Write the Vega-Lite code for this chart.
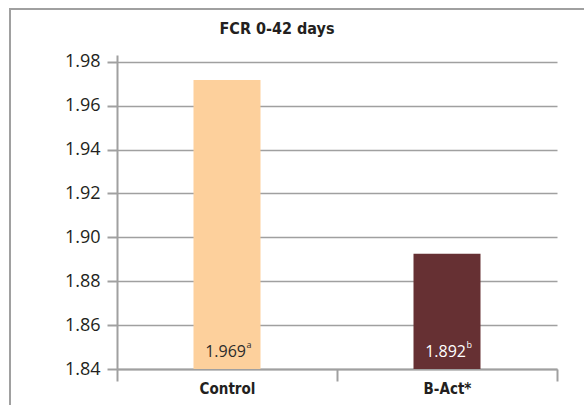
{
  "$schema": "https://vega.github.io/schema/vega-lite/v6.json",
  "width": 584,
  "height": 400,
  "autosize": {"type": "none"},
  "padding": {"left": 10, "top": 9, "right": 0, "bottom": 0},
  "background": "white",
  "title": {
    "text": "FCR 0-42 days",
    "font": "'DejaVu Sans Condensed', Roboto, sans-serif",
    "fontWeight": "bold",
    "fontSize": 16,
    "color": "#231f20",
    "anchor": "middle",
    "frame": "group",
    "dx": -25,
    "offset": -23,
    "dy": 18,
    "baseline": "alphabetic"
  },
  "config": {
    "view": {"stroke": "#a0a0a0", "strokeWidth": 2}
  },
  "data": {
    "values": [
      {"group": "Control", "value": 1.9717, "label": "1.969", "sup": "a"},
      {"group": "B-Act*", "value": 1.8925, "label": "1.892", "sup": "b"}
    ]
  },
  "encoding": {
    "x": {
      "field": "group",
      "type": "nominal",
      "sort": null,
      "scale": {"domain": ["Control", "B-Act*"], "range": [107, 547], "paddingInner": 0, "paddingOuter": 0},
      "axis": {
        "title": null,
        "orient": "bottom",
        "offset": -40,
        "tickBand": "extent",
        "tickSize": 12,
        "tickColor": "#a0a0a0",
        "tickWidth": 2,
        "domainColor": "#a0a0a0",
        "domainWidth": 2,
        "labelAngle": 0,
        "labelFont": "'DejaVu Sans Condensed', Roboto, sans-serif",
        "labelFontWeight": "bold",
        "labelFontSize": 15,
        "labelColor": "#231f20",
        "labelPadding": 0,
        "grid": false
      }
    }
  },
  "layer": [
    {
      "mark": {"type": "bar", "size": 67},
      "encoding": {
        "y": {
          "field": "value",
          "type": "quantitative",
          "scale": {"domain": [1.84, 1.9831], "range": [360, 46], "nice": false, "zero": false},
          "axis": {
            "title": null,
            "values": [1.84, 1.86, 1.88, 1.9, 1.92, 1.94, 1.96, 1.98],
            "format": ".2f",
            "offset": -107,
            "tickSize": 10,
            "labelPadding": 7,
            "labelFont": "Open Sans",
            "labelFontSize": 18,
            "labelColor": "#231f20",
            "domainColor": "#a0a0a0",
            "domainWidth": 2,
            "tickColor": "#a0a0a0",
            "tickWidth": 2,
            "grid": true,
            "gridColor": "#a0a0a0",
            "gridWidth": 1.5
          }
        },
        "y2": {"datum": 1.84},
        "color": {
          "field": "group",
          "type": "nominal",
          "scale": {"domain": ["Control", "B-Act*"], "range": ["#FDD09C", "#663033"]},
          "legend": null
        }
      }
    },
    {
      "mark": {"type": "text", "align": "right", "baseline": "alphabetic", "dx": 19, "dy": -12, "font": "Open Sans", "fontSize": 16},
      "encoding": {
        "y": {"datum": 1.84, "type": "quantitative"},
        "text": {"field": "label"},
        "color": {"condition": {"test": "datum.group === 'Control'", "value": "#2b2b2b"}, "value": "white"}
      }
    },
    {
      "mark": {"type": "text", "align": "left", "baseline": "alphabetic", "dx": 19.5, "dy": -21, "font": "Open Sans", "fontSize": 9},
      "encoding": {
        "y": {"datum": 1.84, "type": "quantitative"},
        "text": {"field": "sup"},
        "color": {"condition": {"test": "datum.group === 'Control'", "value": "#2b2b2b"}, "value": "white"}
      }
    }
  ]
}
